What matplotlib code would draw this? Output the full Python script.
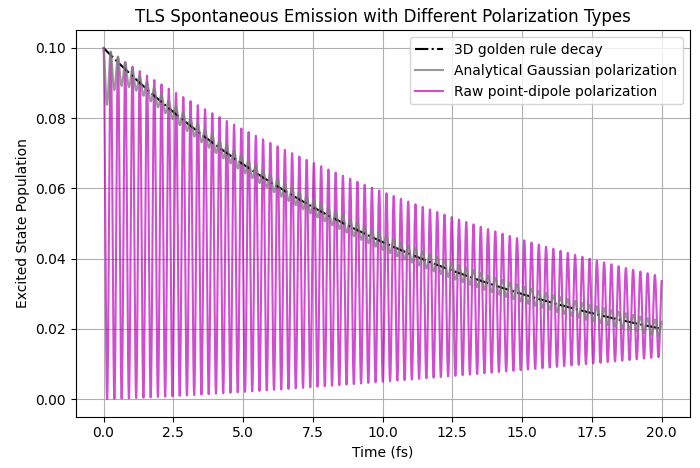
import numpy as np
import matplotlib
matplotlib.use("Agg")
import matplotlib.pyplot as plt

# parameters
t_max = 20.0
p0 = 0.1
tau_golden = 12.43      # golden rule: 0.1 -> 0.02 at 20 fs
period = 0.26           # oscillation period (fs)
tau_upper = 19.0        # raw upper envelope decay
lower_end = 0.012       # raw lower envelope value at 20 fs
gauss_amp0 = 0.02
gauss_amp = 0.0045

t = np.linspace(0, t_max, 4000)
w = 2 * np.pi / period
golden = p0 * np.exp(-t / tau_golden)
amp = gauss_amp + (gauss_amp0 - gauss_amp) * np.exp(-t / 0.4)
gauss = golden - amp * (1 - np.cos(w * t)) / 2 + gauss_amp * 0.5 * (1 - np.exp(-t / 0.4)) * 1.0
upper = p0 * np.exp(-t / tau_upper)
lower = lower_end * (t / t_max) ** 1.3
raw = lower + (upper - lower) * (1 + np.cos(w * t)) / 2

fig, ax = plt.subplots(figsize=(7, 4.68), dpi=100)
ax.plot(t, golden, 'k-.', label='3D golden rule decay', zorder=3)
ax.plot(t, gauss, color='gray', alpha=0.8, label='Analytical Gaussian polarization', lw=1.5, zorder=4)
ax.plot(t, raw, color='m', alpha=0.7, label='Raw point-dipole polarization', lw=1.5, zorder=2)
ax.set_xlabel('Time (fs)')
ax.set_ylabel('Excited State Population')
ax.set_title('TLS Spontaneous Emission with Different Polarization Types')
ax.grid(True)
ax.legend(loc='upper right')
fig.subplots_adjust(left=0.108, right=0.985, top=0.935, bottom=0.11)
fig.savefig('out.png')
